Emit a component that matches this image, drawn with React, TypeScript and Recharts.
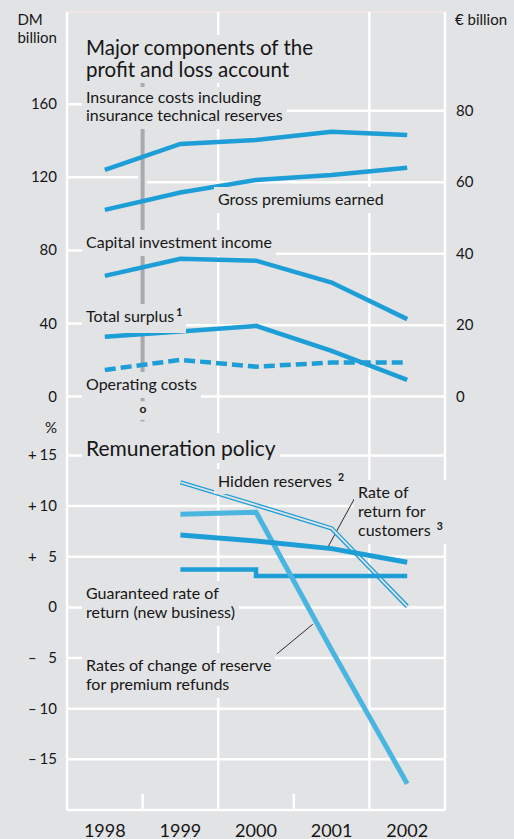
import React from 'react';
import { LineChart, Line, XAxis, YAxis, ReferenceLine } from 'recharts';

// ---------- data ----------
const years = ['1998', '1999', '2000', '2001', '2002'];
// DM billion
const insuranceCosts = [124.1, 138.3, 140.5, 145, 143.2];
const grossPremiums = [102.2, 111.7, 118.6, 121.3, 125.3];
const capitalIncome = [66.1, 75.4, 74.4, 62.4, 42.4];
const totalSurplus = [32.8, 35.6, 38.7, 25, 9.1];
const operatingCosts = [14.6, 20.1, 16.4, 18.6, 18.6];
// %
const hiddenReserves = [null, 12.35, 10.1, 7.8, 0.1];
const customerReturn = [null, 7.15, 6.55, 5.8, 4.45];
const guaranteedRate = [null, 3.75, 3.1, 3.1, 3.1];
const premiumRefunds = [null, 9.2, 9.4, -4.2, -17.4];

const dmTicks = [0, 40, 80, 120, 160];
const euroTicks = [0, 20, 40, 60, 80];
const pctTicks = [15, 10, 5, 0, -5, -10, -15];
const EUR = 1.95583;

const topData = years.map((y, i) => ({
  i,
  ins: insuranceCosts[i],
  gross: grossPremiums[i],
  cap: capitalIncome[i],
  surplus: totalSurplus[i],
  op: operatingCosts[i],
}));
const bottomData = years.map((y, i) => ({
  i,
  hidden: hiddenReserves[i],
  cust: customerReturn[i],
  guar: guaranteedRate[i],
  refund: premiumRefunds[i],
}));

// ---------- style ----------
const BG = '#e2e3e5';
const BLUE = '#1e9ed7';
const LIGHT = '#4ab6e0';
const GRID = '#ffffff';
const TXT = '#161616';
const FONT = "Lato, 'Open Sans', sans-serif";
const GRAY = '#a8aaad';

const TOP_DOMAIN: [number, number] = [-15, 210.5];
const BOT_DOMAIN: [number, number] = [-20, 18.1];
const X_DOMAIN: [number, number] = [-0.5, 4.5];

// y = baseline of first line
function Txt({ x, y, size = 16, lh, anchor = 'start', bg = false, pt = 2, pb = 5, weight = 400, lines }: any) {
  const L = lh ?? Math.round(size * 1.2);
  const off = (L - 1.2 * size) / 2 + 0.987 * size;
  const top = y - off;
  const style: React.CSSProperties = {
    position: 'absolute',
    top: bg ? top - pt : top,
    fontSize: size,
    lineHeight: L + 'px',
    fontFamily: FONT,
    color: TXT,
    whiteSpace: 'nowrap',
    fontWeight: weight,
    background: bg ? BG : 'transparent',
    padding: bg ? `${pt}px 4px ${pb}px 4px` : 0,
  };
  if (anchor === 'end') style.right = 514 - x - (bg ? 4 : 0);
  else if (anchor === 'middle') {
    style.left = x;
    style.transform = 'translateX(-50%)';
  } else style.left = bg ? x - 4 : x;
  return (
    <div style={style}>
      {lines.map((l: any, k: number) => (
        <div key={k}>{l}</div>
      ))}
    </div>
  );
}

const Sup = ({ children }: any) => (
  <span style={{ fontSize: 10.5, fontWeight: 700, position: 'relative', top: -6, marginLeft: 2 }}>{children}</span>
);

const LeftTick = (props: any) => (
  <text x={57} y={props.y} dy={5} textAnchor="end" fontSize={15} fill={TXT} fontFamily={FONT}>
    {props.payload.value}
  </text>
);
const RightTick = (props: any) => (
  <text x={456} y={props.y} dy={5} textAnchor="start" fontSize={15} fill={TXT} fontFamily={FONT}>
    {props.payload.value}
  </text>
);
const PctTick = (props: any) => {
  const v = props.payload.value;
  const sign = v > 0 ? '+' : v < 0 ? '–' : '';
  return (
    <g>
      <text x={28} y={props.y} dy={5} textAnchor="start" fontSize={15} fill={TXT} fontFamily={FONT}>
        {sign}
      </text>
      <text x={57} y={props.y} dy={5} textAnchor="end" fontSize={15} fill={TXT} fontFamily={FONT}>
        {Math.abs(v)}
      </text>
    </g>
  );
};
const YearTick = (props: any) => (
  <text x={props.x} y={412.5} textAnchor="middle" fontSize={18} fill={TXT} fontFamily={FONT}>
    {years[props.payload.value]}
  </text>
);

const line = { dot: false, activeDot: false, isAnimationActive: false, type: 'linear' as const };

export default function App() {
  return (
    <div style={{ position: 'absolute', left: 0, top: 0, width: 514, height: 839, background: BG, overflow: 'hidden' }}>
      {/* ---------- top panel ---------- */}
      <div style={{ position: 'absolute', left: 0, top: 0 }}>
        <LineChart width={514} height={424} data={topData} margin={{ top: 12, right: 0, bottom: 0, left: 0 }}>
          <XAxis type="number" dataKey="i" domain={X_DOMAIN} hide height={0} allowDataOverflow />
          <YAxis yAxisId="l" domain={TOP_DOMAIN} ticks={dmTicks} width={67} axisLine={false} tickLine={false} tick={LeftTick} allowDataOverflow interval={0} />
          <YAxis yAxisId="r" orientation="right" domain={[TOP_DOMAIN[0] / EUR, TOP_DOMAIN[1] / EUR]} ticks={euroTicks} width={69} axisLine={false} tickLine={false} tick={RightTick} allowDataOverflow interval={0} />

          {/* frame & grid */}
          <ReferenceLine yAxisId="l" y={TOP_DOMAIN[1]} stroke="#f3e3e3" strokeWidth={1.5} ifOverflow="visible" />
          <ReferenceLine yAxisId="l" x={-0.5} stroke={GRID} strokeWidth={2.5} ifOverflow="visible" />
          <ReferenceLine yAxisId="l" x={4.5} stroke={GRID} strokeWidth={2.5} ifOverflow="visible" />
          <ReferenceLine yAxisId="l" x={1.5} stroke={GRID} strokeWidth={2.5} ifOverflow="visible" />
          <ReferenceLine yAxisId="l" x={3.5} stroke={GRID} strokeWidth={2.5} ifOverflow="visible" />
          {dmTicks.filter((t) => t !== 0).map((t) => (
            <ReferenceLine key={'dm' + t} yAxisId="l" segment={[{ x: -0.5, y: t }, { x: 0.44, y: t }]} stroke={GRID} strokeWidth={2.5} ifOverflow="visible" />
          ))}
          {euroTicks.filter((t) => t !== 0).map((t) => (
            <ReferenceLine key={'eu' + t} yAxisId="r" segment={[{ x: 0.56, y: t }, { x: 4.5, y: t }]} stroke={GRID} strokeWidth={2.5} ifOverflow="visible" />
          ))}
          {/* currency change marker */}
          <ReferenceLine yAxisId="l" segment={[{ x: 0.5, y: 173.3 }, { x: 0.5, y: -2.5 }]} stroke={GRAY} strokeWidth={4} ifOverflow="visible" />
          <ReferenceLine yAxisId="l" segment={[{ x: 0.5, y: -12.7 }, { x: 0.5, y: -13.6 }]} stroke={GRAY} strokeWidth={4} ifOverflow="visible" />
          <ReferenceLine yAxisId="l" y={0} stroke={GRID} strokeWidth={2.5} ifOverflow="visible" />

          <Line {...line} yAxisId="l" dataKey="ins" stroke={BLUE} strokeWidth={4.5} />
          <Line {...line} yAxisId="l" dataKey="gross" stroke={BLUE} strokeWidth={4.5} />
          <Line {...line} yAxisId="l" dataKey="cap" stroke={BLUE} strokeWidth={4.5} />
          <Line {...line} yAxisId="l" dataKey="surplus" stroke={BLUE} strokeWidth={4.5} />
          <Line {...line} yAxisId="l" dataKey="op" stroke={BLUE} strokeWidth={4.5} strokeDasharray="11 5" />
        </LineChart>
      </div>

      {/* ---------- bottom panel ---------- */}
      <div style={{ position: 'absolute', left: 0, top: 424 }}>
        <LineChart width={514} height={415} data={bottomData} margin={{ top: 0, right: 69, bottom: 0, left: 0 }}>
          <XAxis type="number" dataKey="i" domain={X_DOMAIN} ticks={[0, 1, 2, 3, 4]} height={29} axisLine={false} tickLine={false} tick={YearTick} allowDataOverflow interval={0} />
          <YAxis domain={BOT_DOMAIN} ticks={pctTicks} width={67} axisLine={false} tickLine={false} tick={PctTick} allowDataOverflow interval={0} />

          {pctTicks.map((t) => (
            <ReferenceLine key={'p' + t} y={t} stroke={GRID} strokeWidth={2.5} ifOverflow="visible" />
          ))}
          <ReferenceLine y={BOT_DOMAIN[0]} stroke={GRID} strokeWidth={2.5} ifOverflow="visible" />
          <ReferenceLine x={-0.5} stroke={GRID} strokeWidth={2.5} ifOverflow="visible" />
          <ReferenceLine x={4.5} stroke={GRID} strokeWidth={2.5} ifOverflow="visible" />
          <ReferenceLine x={1.5} stroke={GRID} strokeWidth={2.5} ifOverflow="visible" />
          <ReferenceLine x={3.5} stroke={GRID} strokeWidth={2.5} ifOverflow="visible" />
          <ReferenceLine segment={[{ x: 0.5, y: -20 }, { x: 0.5, y: -18.4 }]} stroke={GRID} strokeWidth={2.5} ifOverflow="visible" />
          <ReferenceLine segment={[{ x: 2.5, y: -20 }, { x: 2.5, y: -18.4 }]} stroke={GRID} strokeWidth={2.5} ifOverflow="visible" />
          {/* leader lines */}
          <ReferenceLine segment={[{ x: 2.954, y: 5.99 }, { x: 3.307, y: 10.8 }]} stroke={TXT} strokeWidth={0.9} ifOverflow="visible" />
          <ReferenceLine segment={[{ x: 2.275, y: -4.6 }, { x: 2.751, y: -1.67 }]} stroke={TXT} strokeWidth={0.9} ifOverflow="visible" />

          <Line {...line} dataKey="hidden" stroke={BLUE} strokeWidth={4.4} />
          <Line {...line} dataKey="hidden" stroke={BG} strokeWidth={1.8} />
          <Line {...line} dataKey="guar" stroke={BLUE} strokeWidth={4.5} type="stepAfter" />
          <Line {...line} dataKey="refund" stroke={LIGHT} strokeWidth={5} />
          <Line {...line} dataKey="cust" stroke={BLUE} strokeWidth={5} />
        </LineChart>
      </div>

      {/* ---------- texts ---------- */}
      <Txt x={57} y={25} size={15} lh={18} anchor="end" lines={['DM', 'billion']} />
      <Txt x={455} y={25} size={15} lines={['€ billion']} />

      <Txt x={86} y={55} size={20.5} lh={22} bg pt={1} pb={3} lines={['Major components of the', 'profit and loss account']} />
      <Txt x={86} y={103} lh={18} bg pt={1} pb={5} lines={['Insurance costs including', 'insurance technical reserves']} />
      <Txt x={218} y={205} bg lines={['Gross premiums earned']} />
      <Txt x={86} y={248} bg lines={['Capital investment income']} />
      <Txt x={86} y={322} bg lines={[<>Total surplus<Sup>1</Sup></>]} />
      <Txt x={86} y={390} bg lines={['Operating costs']} />
      <Txt x={143} y={414} size={12} anchor="middle" weight={700} lines={['o']} />

      <Txt x={57} y={433} size={15} anchor="end" lines={['%']} />
      <Txt x={86} y={456} size={21} bg pb={3} lines={['Remuneration policy']} />
      <Txt x={218} y={487} bg pb={1} lines={[<>Hidden reserves <Sup>2</Sup></>]} />
      <Txt x={358} y={498} lh={19} bg pb={2} lines={['Rate of', 'return for', <>customers <Sup>3</Sup></>]} />
      <Txt x={86} y={599} lh={19} bg lines={['Guaranteed rate of', 'return (new business)']} />
      <Txt x={86} y={671} lh={19} bg lines={['Rates of change of reserve', 'for premium refunds']} />
    </div>
  );
}
